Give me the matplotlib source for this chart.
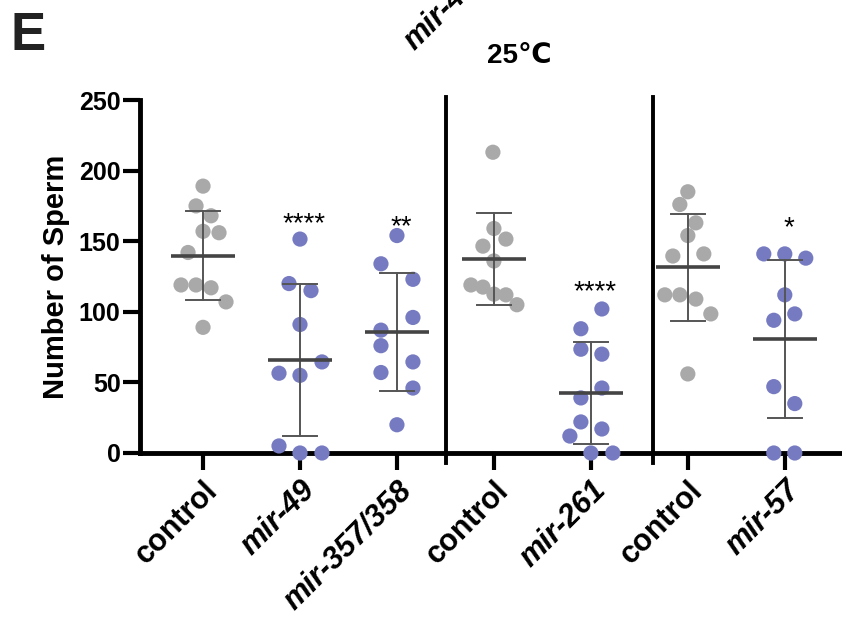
import numpy as np
import matplotlib.pyplot as plt

plt.rcParams['font.family'] = ['Liberation Sans', 'DejaVu Sans']
plt.rcParams['font.weight'] = 'bold'

# data (number of sperm per animal)
labels = ['control', 'mir-49', 'mir-357/358', 'control', 'mir-261', 'control', 'mir-57']
mutant = [False, True, True, False, True, False, True]

control_1 = [189, 175, 168, 157, 156, 142, 119, 119, 117, 107, 89]
mir_49 = [151.5, 120, 115, 91, 64.5, 56.5, 55, 5, 0, 0]
mir_357_358 = [154, 134, 123, 96, 87, 76, 64.5, 57, 46, 20]
control_2 = [213, 159, 151.5, 146.5, 136, 119, 117.5, 112.5, 112, 105]
mir_261 = [102, 88, 73.5, 70, 46, 39, 22, 17, 12, 0, 0]
control_3 = [185, 176, 163, 154, 141, 139.5, 112, 112, 109, 98.5, 56]
mir_57 = [141, 141, 138, 112, 98.5, 94, 47, 35, 0, 0]

values = [control_1, mir_49, mir_357_358, control_2, mir_261, control_3, mir_57]

# horizontal scatter of the dots (in px as seen in the figure)
jitter_px = [
    [0, -7, 8, 0, 16, -15, -22, -7, 8, 23, 0],
    [0, -11, 11, 0, 22, -21, 0, -21, 0, 22],
    [0, -16, 16, 16, -16, -16, 16, -16, 16, 0],
    [-1, 0, 12, -11, 0, -23, -11, 0, 12, 23],
    [11, -10, -10, 11, 11, -10, -10, 11, -21, 0, 22],
    [0, -8, 8, 0, 16, -15, -23, -8, 8, 23, 0],
    [-21, 0, 21, 0, 10, -11, -11, 10, -11, 10],
]

stars = ['', '****', '**', '', '****', '', '*']
star_y = [0, 157, 155, 0, 109, 0, 154]

dividers = [2.505, 4.64]

gray = '#A9A9A9'
blue = '#767BC1'

fig = plt.figure(figsize=(8.42, 6.22), dpi=100)
ax = fig.add_axes([140 / 842, 1 - 453 / 622, 702 / 842, 353 / 622])

for i, vals in enumerate(values):
    vals = np.array(vals)
    xs = i + np.array(jitter_px[i]) / 97.0
    ax.scatter(xs, vals, s=120, color=blue if mutant[i] else gray,
               edgecolors='none', zorder=3, clip_on=False)
    m = vals.mean()
    sd = vals.std(ddof=1)
    ax.plot([i, i], [m - sd, m + sd], color='#555555', lw=1.4, zorder=4)
    ax.plot([i - 0.175, i + 0.175], [m + sd, m + sd], color='#555555', lw=1.4, zorder=4)
    ax.plot([i - 0.175, i + 0.175], [m - sd, m - sd], color='#555555', lw=1.4, zorder=4)
    ax.plot([i - 0.33, i + 0.33], [m, m], color='#444444', lw=2.6, zorder=4,
            solid_capstyle='butt')
    if stars[i]:
        ax.text(i + 0.04, star_y[i], stars[i], ha='center', va='baseline',
                fontsize=20, fontweight='normal', color='black')

for d in dividers:
    ax.plot([d, d], [-7, 252], color='black', lw=2.8, clip_on=False, zorder=5)

ax.set_xlim(-0.65, 6.59)
ax.set_ylim(0, 250)
ax.set_yticks(range(0, 251, 50))
ax.set_xticks(range(len(labels)))
ax.set_xticklabels(labels, rotation=45, ha='right', rotation_mode='anchor',
                   fontsize=22, fontweight='bold')
for lab, mt in zip(ax.get_xticklabels(), mutant):
    if mt:
        lab.set_fontstyle('italic')
for lab in ax.get_yticklabels():
    lab.set_fontsize(18)
    lab.set_fontweight('bold')

for side in ['top', 'right']:
    ax.spines[side].set_visible(False)
ax.spines['left'].set_linewidth(3.5)
ax.spines['bottom'].set_linewidth(3.5)
ax.tick_params(axis='both', width=3, length=12, pad=2, color='black')
ax.tick_params(axis='x', pad=4)

ax.set_ylabel('Number of Sperm', fontsize=21, fontweight='bold', labelpad=6)

fig.text(519 / 842, 1 - 56 / 622, '25℃', ha='center', va='center',
         fontsize=20, fontweight='bold')
fig.text(11 / 842, 1 - 36 / 622, 'E', ha='left', va='center',
         fontsize=38, fontweight='bold', color='#222222')
# clipped label from the panel above
fig.text(414 / 842, 1 - 51 / 622, 'mir-49', ha='left', va='baseline', rotation=45,
         rotation_mode='anchor', fontsize=22, fontweight='bold', fontstyle='italic')

fig.savefig('out.png', dpi=100)
